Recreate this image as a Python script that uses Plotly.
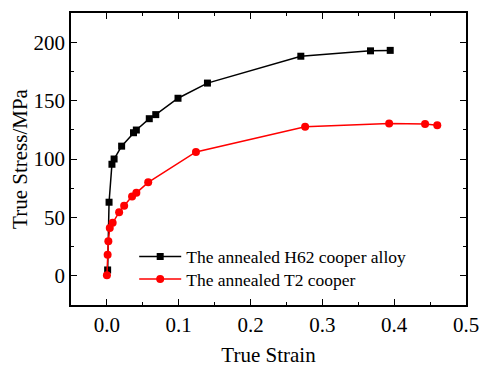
import plotly.graph_objects as go

# H62 alloy
h62_strain = [0.001, 0.003, 0.007, 0.010, 0.0205, 0.037, 0.041, 0.059, 0.068, 0.099, 0.140, 0.270, 0.367, 0.3945]
h62_stress = [5, 63, 95.5, 100, 111, 122.5, 124.8, 134.5, 138, 152, 165, 188, 192.6, 193]
# T2 copper
t2_strain = [0.0, 0.001, 0.002, 0.004, 0.008, 0.017, 0.024, 0.035, 0.041, 0.0575, 0.124, 0.276, 0.393, 0.443, 0.460]
t2_stress = [0.5, 18, 29.5, 41, 45.5, 54.5, 60, 68, 71, 80, 106, 127.7, 130.5, 130, 129]

x_ticks = [0.0, 0.1, 0.2, 0.3, 0.4, 0.5]
y_ticks = [0, 50, 100, 150, 200]

font = "Liberation Serif, Times New Roman, serif"

fig = go.Figure()
fig.add_trace(go.Scatter(x=h62_strain, y=h62_stress, mode="lines+markers",
                         name="The annealed H62 cooper alloy", legend="legend",
                         line=dict(color="black", width=1.5),
                         marker=dict(symbol="square", size=7, color="black")))
fig.add_trace(go.Scatter(x=t2_strain, y=t2_stress, mode="lines+markers",
                         name="The annealed T2 cooper", legend="legend2",
                         line=dict(color="#ff0000", width=1.5),
                         marker=dict(symbol="circle", size=8, color="#ff0000")))

axis_common = dict(showline=True, linecolor="black", linewidth=1.5, mirror="allticks",
                   ticks="inside", ticklen=6, tickwidth=1.2, tickcolor="black",
                   showgrid=False, zeroline=False, automargin=False,
                   tickfont=dict(family=font, size=21, color="black"))
fig.update_xaxes(range=[-0.05, 0.5], tickvals=x_ticks, ticktext=[f"{v:.1f}" for v in x_ticks],
                 title=dict(text="True Strain", font=dict(family=font, size=21, color="black"), standoff=12),
                 minor=dict(ticks="inside", ticklen=3, dtick=0.05, tick0=0, tickcolor="black", tickwidth=1.2),
                 **axis_common)
fig.update_yaxes(range=[-25, 225], tickvals=y_ticks, ticktext=[str(v) for v in y_ticks],
                 title=dict(text="True Stress/MPa", font=dict(family=font, size=21, color="black"), standoff=0),
                 minor=dict(ticks="inside", ticklen=3, dtick=25, tick0=0, tickcolor="black", tickwidth=1.2),
                 **axis_common)
leg_common = dict(xanchor="left", yanchor="middle", bgcolor="rgba(0,0,0,0)",
                  font=dict(family=font, size=17.5, color="black"), itemwidth=42)
fig.update_layout(width=480, height=367, margin=dict(l=71, r=14, t=13, b=62),
                  paper_bgcolor="white", plot_bgcolor="white",
                  legend=dict(x=0.16, y=0.166, **leg_common),
                  legend2=dict(x=0.16, y=0.089, **leg_common),
                  showlegend=True)
fig.write_html("out.html")
